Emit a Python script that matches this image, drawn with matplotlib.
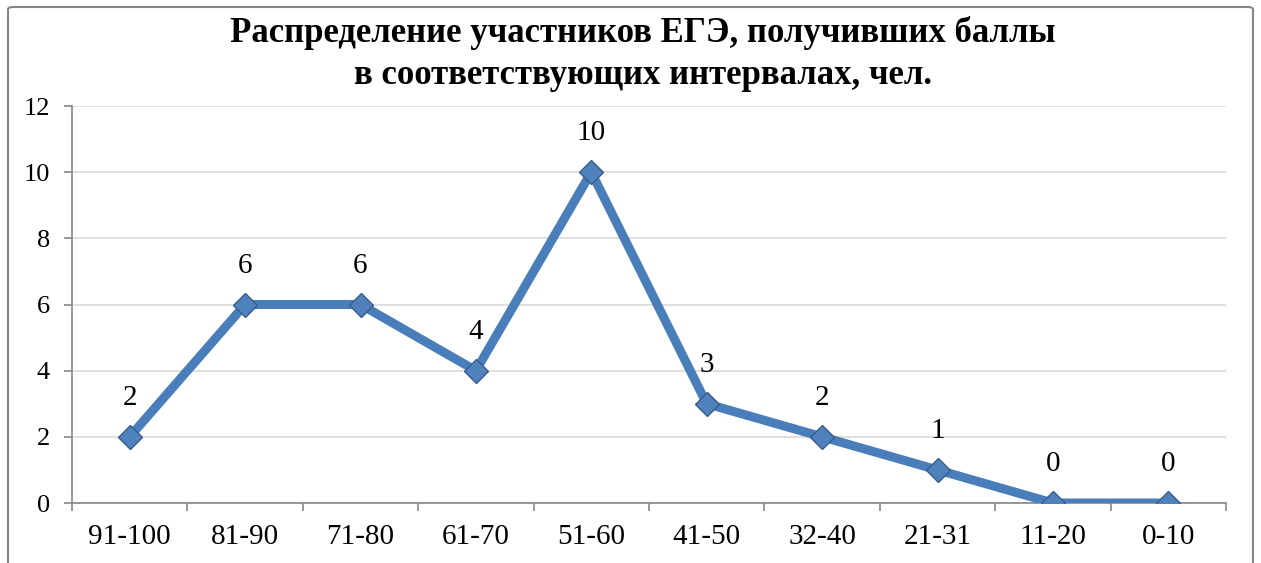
import matplotlib.pyplot as plt
import numpy as np
from matplotlib.patches import FancyBboxPatch

# data
categories = ['91-100', '81-90', '71-80', '61-70', '51-60',
              '41-50', '32-40', '21-31', '11-20', '0-10']
counts = [2, 6, 6, 4, 10, 3, 2, 1, 0, 0]
title = 'Распределение участников ЕГЭ, получивших баллы\nв соответствующих интервалах, чел.'

plt.rcParams['font.family'] = ['Liberation Serif', 'DejaVu Serif']

fig = plt.figure(figsize=(12.61, 5.63), dpi=100)
ax = fig.add_axes([72 / 1261, 1 - 503 / 563, (1226 - 72) / 1261, (503 - 106) / 563])

# outer chart border
border = FancyBboxPatch((8 / 1261, -0.05), (1253 - 8) / 1261, 1.05 - 7 / 563,
                        boxstyle='round,pad=0,rounding_size=0.004',
                        transform=fig.transFigure, fill=False,
                        edgecolor='#868686', linewidth=1.5)
fig.patches.append(border)

x = np.arange(len(categories))
ax.plot(x, counts, color='#4a7ebb', linewidth=6.5, solid_joinstyle='miter',
        marker='D', markersize=12, markerfacecolor='#4f81bd',
        markeredgecolor='#385d8a', markeredgewidth=1, zorder=3)

for xi, v in zip(x, counts):
    ax.annotate(str(v), (xi, v), xytext=(0, 28), textcoords='offset points',
                ha='center', va='center', fontsize=21)

ax.set_xlim(-0.5, len(categories) - 0.5)
ax.set_ylim(0, 12)
ax.set_yticks(range(0, 13, 2))
ax.yaxis.grid(True, color='#d9d9d9', linewidth=1.2)
ax.set_axisbelow(True)

ax.set_xticks(x)
ax.set_xticklabels(categories)
ax.set_xticks(np.arange(-0.5, len(categories), 1), minor=True)
ax.tick_params(axis='x', which='major', length=0, pad=15, labelsize=21)
ax.tick_params(axis='x', which='minor', length=6, color='#868686', width=1.2)
ax.tick_params(axis='y', length=6, color='#868686', width=1.2, labelsize=19, pad=10)

for s in ['top', 'right']:
    ax.spines[s].set_visible(False)
for s in ['left', 'bottom']:
    ax.spines[s].set_color('#868686')
    ax.spines[s].set_linewidth(1.2)

fig.text(643 / 1261, 1 - 54 / 563, title, ha='center', va='center',
         fontsize=25, fontweight='bold', linespacing=1.38)

fig.savefig('out.png', dpi=100)
